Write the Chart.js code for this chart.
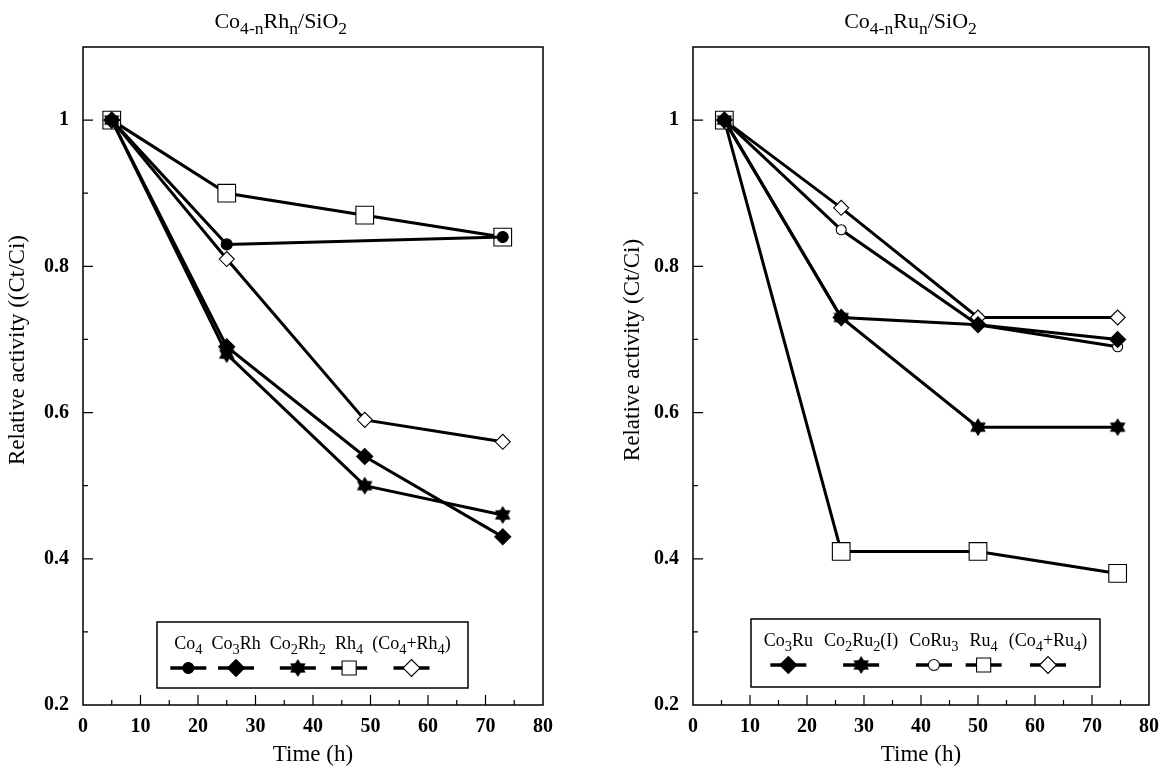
<!DOCTYPE html>
<html>
<head>
<meta charset="utf-8">
<script src="https://cdn.jsdelivr.net/npm/chart.js@4.4.1/dist/chart.umd.min.js"></script>
<style>
  html, body { margin: 0; padding: 0; background: #fff; }
  #wrap { position: relative; width: 1169px; height: 769px; }
  .panel { position: absolute; top: 0; height: 769px; }
  #rhPanel { left: 0; width: 584px; }
  #ruPanel { left: 610px; width: 559px; }
</style>
</head>
<body>
<div id="wrap">
  <div class="panel" id="rhPanel"><canvas id="rhChart"></canvas></div>
  <div class="panel" id="ruPanel"><canvas id="ruChart"></canvas></div>
</div>
<script>
// ============================================
// Data (relative activity Ct/Ci vs time)
// ============================================

// left panel: Co4-nRhn/SiO2
const rhHours = [5, 25, 49, 73];
const rhLabels = ['Co_4', 'Co_3Rh', 'Co_2Rh_2', 'Rh_4', '(Co_4+Rh_4)'];
const rhCo4 = [1, 0.83, null, 0.84];
const rhCo3Rh = [1, 0.69, 0.54, 0.43];
const rhCo2Rh2 = [1, 0.68, 0.50, 0.46];
const rhRh4 = [1, 0.90, 0.87, 0.84];
const rhMix = [1, 0.81, 0.59, 0.56];

// right panel: Co4-nRun/SiO2
const ruHours = [5.5, 26, 50, 74.5];
const ruLabels = ['Co_3Ru', 'Co_2Ru_2(I)', 'CoRu_3', 'Ru_4', '(Co_4+Ru_4)'];
const ruCo3Ru = [1, 0.73, 0.72, 0.70];
const ruCo2Ru2 = [1, 0.73, 0.58, 0.58];
const ruCoRu3 = [1, 0.85, 0.72, 0.69];
const ruRu4 = [1, 0.41, 0.41, 0.38];
const ruMix = [1, 0.88, 0.73, 0.73];

const xTicks = [0, 10, 20, 30, 40, 50, 60, 70, 80];
const yTicks = [0.2, 0.4, 0.6, 0.8, 1];

const SERIF = "'Liberation Serif', 'DejaVu Serif', serif";
const SUB = 0.8;

// --- small helpers for subscripted labels like Co_4 or Co_{4-n}
function parseRich(s) {
    const parts = [];
    let buf = '';
    for (let i = 0; i < s.length; i++) {
        const c = s[i];
        if (c === '_') {
            if (buf) parts.push({ t: buf, sub: false });
            buf = '';
            if (s[i + 1] === '{') {
                const j = s.indexOf('}', i);
                parts.push({ t: s.slice(i + 2, j), sub: true });
                i = j;
            } else {
                parts.push({ t: s[i + 1], sub: true });
                i++;
            }
        } else {
            buf += c;
        }
    }
    if (buf) parts.push({ t: buf, sub: false });
    return parts;
}

function richWidth(ctx, s, size, weight) {
    let w = 0;
    parseRich(s).forEach(p => {
        ctx.font = `${weight} ${p.sub ? size * SUB : size}px ${SERIF}`;
        w += ctx.measureText(p.t).width;
    });
    return w;
}

function drawRich(ctx, s, cx, y, size, weight) {
    const w = richWidth(ctx, s, size, weight);
    let x = cx - w / 2;
    ctx.textAlign = 'left';
    ctx.textBaseline = 'alphabetic';
    ctx.fillStyle = '#000';
    parseRich(s).forEach(p => {
        ctx.font = `${weight} ${p.sub ? size * SUB : size}px ${SERIF}`;
        ctx.fillText(p.t, x, p.sub ? y + size * 0.28 : y);
        x += ctx.measureText(p.t).width;
    });
}

// filled six-pointed star marker
function makeStar(r) {
    const c = document.createElement('canvas');
    const s = Math.ceil(r * 2 + 2);
    c.width = s; c.height = s;
    const g = c.getContext('2d');
    g.beginPath();
    for (let k = 0; k < 12; k++) {
        const a = -Math.PI / 2 + k * Math.PI / 6;
        const rr = k % 2 ? r * 0.6 : r;
        g.lineTo(s / 2 + rr * Math.cos(a), s / 2 + rr * Math.sin(a));
    }
    g.closePath();
    g.fillStyle = '#000';
    g.fill();
    return c;
}
const starImg = makeStar(9);

function series(hours, values, label, style) {
    return Object.assign({
        label: label,
        data: hours.map((h, i) => ({ x: h, y: values[i] })),
        borderColor: '#000',
        borderWidth: 3,
        pointBorderColor: '#000',
        pointBorderWidth: 1.1,
        spanGaps: true,
        tension: 0,
        fill: false
    }, style);
}

const filledCircle = { pointStyle: 'circle', pointRadius: 5.5, pointBackgroundColor: '#000', legendRadius: 5.5 };
const filledDiamond = { pointStyle: 'rectRot', pointRadius: 8, pointBackgroundColor: '#000', legendRadius: 8.5 };
const filledStar = { pointStyle: starImg, pointRadius: 9, pointBackgroundColor: '#000' };
const openSquare = { pointStyle: 'rect', pointRadius: 12.5, pointBackgroundColor: '#fff', legendRadius: 10 };
const openDiamond = { pointStyle: 'rectRot', pointRadius: 7.5, pointBackgroundColor: '#fff', legendRadius: 8.5 };
const openCircle = { pointStyle: 'circle', pointRadius: 5, pointBackgroundColor: '#fff', legendRadius: 5.5 };

// frame + inward major/minor ticks
const framePlugin = {
    id: 'frameTicks',
    beforeDatasetsDraw(chart) {
        const { ctx, chartArea: a, scales } = chart;
        ctx.save();
        ctx.strokeStyle = '#000';
        ctx.lineWidth = 1.5;
        ctx.strokeRect(a.left, a.top, a.right - a.left, a.bottom - a.top);
        ctx.lineWidth = 1.2;
        ctx.beginPath();
        for (let v = 5; v < 80; v += 5) {
            const px = scales.x.getPixelForValue(v);
            const len = v % 10 === 0 ? 10 : 5;
            ctx.moveTo(px, a.bottom);
            ctx.lineTo(px, a.bottom - len);
        }
        for (let k = 3; k <= 10; k++) {
            const py = scales.y.getPixelForValue(k / 10);
            const len = k % 2 === 0 ? 10 : 5;
            ctx.moveTo(a.left, py);
            ctx.lineTo(a.left + len, py);
        }
        ctx.stroke();
        ctx.restore();
    }
};

// panel title, y title and boxed legend with labels above the symbols
const decoPlugin = {
    id: 'deco',
    afterDraw(chart, args, opts) {
        const { ctx, chartArea: a } = chart;
        ctx.save();
        drawRich(ctx, opts.title, a.left + opts.titleFrac * (a.right - a.left), 28, 22, 'normal');

        ctx.save();
        ctx.translate(opts.yTitleX, 350);
        ctx.rotate(-Math.PI / 2);
        ctx.font = `normal 23px ${SERIF}`;
        ctx.fillStyle = '#000';
        ctx.textAlign = 'center';
        ctx.textBaseline = 'middle';
        ctx.fillText(opts.yTitle, 0, 0);
        ctx.restore();

        const bx0 = a.left + opts.box[0], bx1 = a.left + opts.box[1];
        const by0 = a.bottom - opts.box[2], by1 = a.bottom - opts.box[3];
        ctx.strokeStyle = '#000';
        ctx.lineWidth = 1.5;
        ctx.strokeRect(bx0, by0, bx1 - bx0, by1 - by0);

        const ds = chart.data.datasets;
        const fs = 18;
        const widths = ds.map(d => richWidth(ctx, d.label, fs, 'normal'));
        const total = widths.reduce((s, w) => s + w, 0) + opts.gap * (ds.length - 1);
        let x = (bx0 + bx1) / 2 - total / 2;
        ds.forEach((d, i) => {
            const cx = x + widths[i] / 2;
            drawRich(ctx, d.label, cx, by0 + 27, fs, 'normal');
            const sy = by0 + 46;
            ctx.strokeStyle = '#000';
            ctx.lineWidth = 3.5;
            ctx.beginPath();
            ctx.moveTo(cx - 18, sy);
            ctx.lineTo(cx + 18, sy);
            ctx.stroke();
            ctx.fillStyle = d.pointBackgroundColor;
            ctx.lineWidth = 1.1;
            Chart.helpers.drawPoint(ctx, {
                pointStyle: d.pointStyle,
                radius: d.legendRadius || d.pointRadius,
                borderWidth: 1.1,
                rotation: 0
            }, cx, sy);
            x += widths[i] + opts.gap;
        });
        ctx.restore();
    }
};

function makeChart(id, datasets, padRight, deco) {
    return new Chart(document.getElementById(id), {
        type: 'line',
        data: { datasets: datasets },
        plugins: [framePlugin, decoPlugin],
        options: {
            responsive: true,
            maintainAspectRatio: false,
            animation: false,
            layout: { padding: { left: 0, top: 47, right: padRight, bottom: 0 } },
            plugins: {
                legend: { display: false },
                tooltip: { enabled: false },
                deco: deco
            },
            scales: {
                x: {
                    type: 'linear',
                    min: 0, max: 80,
                    afterFit: s => { s.height = 64; },
                    afterBuildTicks: s => { s.ticks = xTicks.map(v => ({ value: v })); },
                    grid: { display: false, drawTicks: false },
                    border: { display: false },
                    ticks: {
                        padding: 10,
                        color: '#000',
                        font: { family: SERIF, size: 20, weight: 'bold' }
                    },
                    title: {
                        display: true,
                        text: 'Time (h)',
                        color: '#000',
                        padding: { top: 0, bottom: 0 },
                        font: { family: SERIF, size: 23, weight: 'normal' }
                    }
                },
                y: {
                    type: 'linear',
                    min: 0.2, max: 1.1,
                    afterFit: s => { s.width = 83; },
                    afterBuildTicks: s => { s.ticks = yTicks.map(v => ({ value: v })); },
                    grid: { display: false, drawTicks: false },
                    border: { display: false },
                    ticks: {
                        padding: 14,
                        color: '#000',
                        font: { family: SERIF, size: 20, weight: 'bold' },
                        callback: v => String(Number(v.toFixed(1)))
                    }
                }
            }
        }
    });
}

makeChart('rhChart', [
    series(rhHours, rhCo4, rhLabels[0], filledCircle),
    series(rhHours, rhCo3Rh, rhLabels[1], filledDiamond),
    series(rhHours, rhCo2Rh2, rhLabels[2], filledStar),
    series(rhHours, rhRh4, rhLabels[3], openSquare),
    series(rhHours, rhMix, rhLabels[4], openDiamond)
], 41, {
    title: 'Co_{4-n}Rh_n/SiO_2', titleFrac: 0.43,
    yTitle: 'Relative activity ((Ct/Ci)', yTitleX: 18,
    box: [74, 385, 83, 17], gap: 9
});

makeChart('ruChart', [
    series(ruHours, ruCo3Ru, ruLabels[0], filledDiamond),
    series(ruHours, ruCo2Ru2, ruLabels[1], filledStar),
    series(ruHours, ruCoRu3, ruLabels[2], openCircle),
    series(ruHours, ruRu4, ruLabels[3], openSquare),
    series(ruHours, ruMix, ruLabels[4], openDiamond)
], 17, {
    title: 'Co_{4-n}Ru_n/SiO_2', titleFrac: 0.477,
    yTitle: 'Relative activity (Ct/Ci)', yTitleX: 23,
    box: [58, 407, 86, 18], gap: 11
});
</script>
</body>
</html>
